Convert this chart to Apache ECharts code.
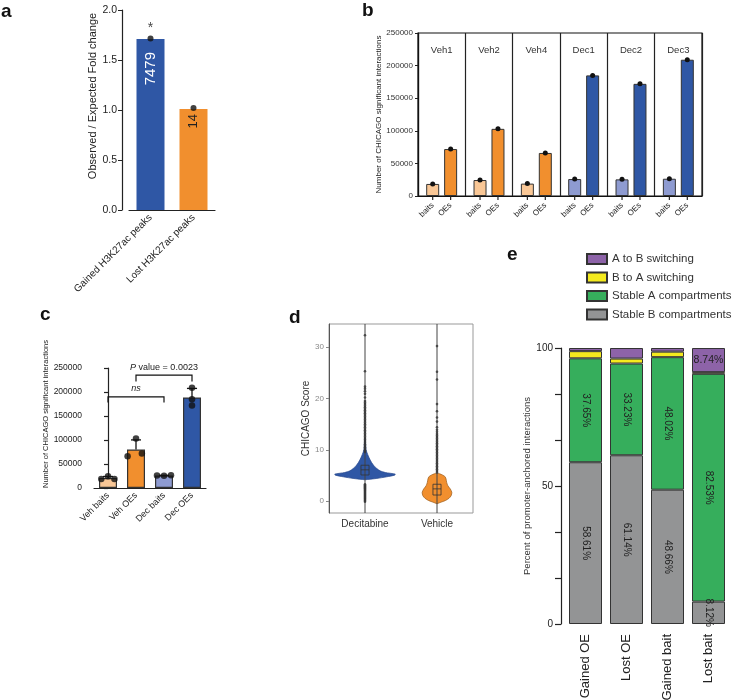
<!DOCTYPE html>
<html><head><meta charset="utf-8">
<script src="https://cdn.jsdelivr.net/npm/echarts@6/dist/echarts.min.js"></script>
<style>html,body{margin:0;padding:0;background:#fff}#c{width:732px;height:700px}</style>
</head><body><div id="c"></div><script>
// ---------- Panel a ----------
const aCats = ['Gained H3K27ac peaks', 'Lost H3K27ac peaks'];
const aValues = [1.71, 1.01];
const aPoints = [1.715, 1.02];
const aCounts = ['7479', '14'];
const aStars = ['*', ''];
// ---------- Panel b ----------
const bGroups = ['Veh1', 'Veh2', 'Veh4', 'Dec1', 'Dec2', 'Dec3'];
const bBaits = [18500, 24500, 19000, 26000, 25500, 26500];
const bOEs = [72000, 103000, 66000, 185000, 172000, 209000];
// ---------- Panel c ----------
const cCats = ['Veh baits', 'Veh OEs', 'Dec baits', 'Dec OEs'];
const cReplicates = [bBaits.slice(0, 3), bOEs.slice(0, 3), bBaits.slice(3), bOEs.slice(3)];
const cJitter = [[-0.24, 0, 0.23], [0.21, 0, -0.3], [-0.25, 0, 0.25], [0, 0, 0]];
const bracketFrom = [0, 1];
const bracketTo = [2, 3];
const bracketLevel = [190000, 235000];
const bracketLeg = [178000, 222000];
const bracketText = ['ns', 'P value = 0.0023'];
// ---------- Panel d ----------
const dCats = ['Decitabine', 'Vehicle'];
const dDecProfile = [[4.17,0],[4.43,0.39],[4.75,0.72],[5.07,0.98],[5.27,1],[5.59,0.67],[5.91,0.5],[6.36,0.39],[6.87,0.3],[7.51,0.22],[8.16,0.16],[8.8,0.11],[9.44,0.067],[10.1,0.033],[11.4,0.017],[12.3,0]];
const dVehProfile = [[-0.5,0],[-0.2,0.13],[0.13,0.28],[0.58,0.4],[1.09,0.47],[1.73,0.49],[2.38,0.44],[3.0,0.36],[3.66,0.32],[4.3,0.3],[4.75,0.27],[5.07,0.19],[5.33,0.09],[5.46,0]];
const dBoxes = [[5.1, 6.1, 7.0], [1.2, 2.4, 3.3]];
const dDecOutliers = [-0.1,0.1,0.3,0.5,0.7,0.9,1.1,1.3,1.5,1.7,1.9,2.1,2.3,2.5,2.7,2.9,3.1,3.3,
  9.6,9.9,10.2,10.5,10.8,11.1,11.4,11.7,12.0,12.3,12.6,12.9,13.2,13.5,13.8,14.1,14.4,14.7,15.0,15.3,15.6,15.9,16.2,16.5,16.8,17.1,17.4,17.7,18.0,18.3,18.6,18.9,19.2,19.5,20.2,20.9,21.4,21.9,22.3,25.3,32.3];
const dVehOutliers = [5.6,5.9,6.2,6.5,6.8,7.1,7.4,7.7,8.0,8.3,8.6,8.9,9.2,9.5,9.8,10.1,10.4,10.7,11.0,11.3,11.6,11.9,12.2,12.5,12.8,13.1,13.5,13.9,14.4,15.5,16.3,17.5,18.9,23.7,25.2,30.2];
// ---------- Panel e ----------
const eCats = ['Gained OE', 'Lost OE', 'Gained bait', 'Lost bait'];
const eStableB = [58.61, 61.14, 48.66, 8.12];
const eStableA = [37.65, 33.23, 48.02, 82.53];
const eBtoA = [2.6, 1.8, 2.0, 0.6];
const eAtoB = [1.14, 3.83, 1.32, 8.74];
const eYTicks = [0, 50, 100];

// ---------- styles ----------
const FONT = 'Liberation Sans, Arial, Helvetica, sans-serif';
const C_VEH_B = '#F9C796', C_VEH_O = '#F18F2E', C_DEC_B = '#8E9BD1', C_DEC_O = '#2F57A5';
const groupIsVeh = g => g.startsWith('Veh');
const bBaitColors = bGroups.map(g => groupIsVeh(g) ? C_VEH_B : C_DEC_B);
const bOEColors = bGroups.map(g => groupIsVeh(g) ? C_VEH_O : C_DEC_O);
const cColors = [C_VEH_B, C_VEH_O, C_DEC_B, C_DEC_O];

const mean = a => a.reduce((s, v) => s + v, 0) / a.length;
const sd = a => { const m = mean(a); return Math.sqrt(a.reduce((s, v) => s + (v - m) * (v - m), 0) / (a.length - 1)); };
const cMeans = cReplicates.map(mean);
const cSDs = cReplicates.map(sd);

const chart = echarts.init(document.getElementById('c'), null, {renderer: 'canvas'});

function renderErr(params, api) {
  const base = api.coord([api.value(0), api.value(1)]);
  const top = api.coord([api.value(0), api.value(2)]);
  const cap = api.size([1, 0])[0] * 0.18;
  const st = {stroke: '#111', lineWidth: 1.3};
  return {type: 'group', children: [
    {type: 'line', shape: {x1: base[0], y1: base[1], x2: top[0], y2: top[1]}, style: st},
    {type: 'line', shape: {x1: top[0] - cap, y1: top[1], x2: top[0] + cap, y2: top[1]}, style: st}
  ]};
}
function renderBracket(params, api) {
  const i = params.dataIndex;
  const p1 = api.coord([api.value(0), api.value(2)]);
  const p2 = api.coord([api.value(1), api.value(2)]);
  const l1 = api.coord([api.value(0), api.value(3)]);
  const l2 = api.coord([api.value(1), api.value(3)]);
  const txt = bracketText[i];
  const isP = txt.startsWith('P ');
  return {type: 'group', children: [
    {type: 'polyline', shape: {points: [[l1[0], l1[1]], [p1[0], p1[1]], [p2[0], p2[1]], [l2[0], l2[1]]]},
      style: {stroke: '#111', lineWidth: 1.2, fill: null}},
    {type: 'text', x: (p1[0] + p2[0]) / 2, y: p1[1] - 8,
      style: isP ? {text: '{i|P}' + txt.slice(1), rich: {i: {fontStyle: 'italic', fontSize: 9, fontFamily: FONT, fill: '#222'}},
        align: 'center', verticalAlign: 'middle', fontSize: 9, fontFamily: FONT, fill: '#222'}
        : {text: txt, align: 'center', verticalAlign: 'middle', fontSize: 9, fontStyle: 'italic', fontFamily: FONT, fill: '#222'}}
  ]};
}
const VIOLIN_HALF = 0.42, BOX_HALF = 0.056;
const dProfiles = [dDecProfile, dVehProfile];
const dFill = ['#2F57A5', '#F18F2E'], dStroke = ['#27488c', '#9a5a1a'];
function renderViolin(params, api) {
  const cat = api.value(0);
  const prof = dProfiles[cat];
  const band = api.size([1, 0])[0];
  const cx = api.coord([cat, 0])[0];
  const right = [], left = [];
  prof.forEach(([s, d]) => {
    const y = api.coord([cat, s])[1];
    const w = d * band * VIOLIN_HALF;
    right.push([cx + w, y]);
    left.unshift([cx - w, y]);
  });
  const cs = params.coordSys;
  const bx = dBoxes[cat];
  const bw = band * BOX_HALF;
  const y1 = api.coord([cat, bx[0]])[1], ym = api.coord([cat, bx[1]])[1], y3 = api.coord([cat, bx[2]])[1];
  return {type: 'group', children: [
    {type: 'polygon', shape: {points: right.concat(left), smooth: 0.25}, style: {fill: dFill[cat], stroke: dStroke[cat], lineWidth: 0.7}},
    {type: 'line', shape: {x1: cx, y1: cs.y, x2: cx, y2: cs.y + cs.height}, style: {stroke: '#444', lineWidth: 1}},
    {type: 'rect', shape: {x: cx - bw, y: y3, width: 2 * bw, height: y1 - y3}, style: {fill: null, stroke: '#333', lineWidth: 0.8}},
    {type: 'line', shape: {x1: cx - bw, y1: ym, x2: cx + bw, y2: ym}, style: {stroke: '#333', lineWidth: 0.8}}
  ]};
}

const axisTxt = {fontFamily: FONT, color: '#222'};
const plain = v => String(v);
// tick marks under each bar of panel b: on the top category axis (own bar layout, same grid)
const tickSeries = vals => ({type: 'pictorialBar', xAxisIndex: 2, yAxisIndex: 1, barWidth: 13, barGap: '38%',
  symbol: 'rect', symbolSize: [1.2, 4], symbolPosition: 'start', symbolOffset: [0, '100%'],
  itemStyle: {color: '#222'}, z: 5, data: vals});
const option = {
  animation: false,
  textStyle: {fontFamily: FONT},
  graphic: [
    {type: 'text', left: 1, top: 2, style: {text: 'a', font: 'bold 19px ' + FONT, fill: '#111'}},
    {type: 'text', left: 362, top: 1, style: {text: 'b', font: 'bold 19px ' + FONT, fill: '#111'}},
    {type: 'text', left: 40, top: 305, style: {text: 'c', font: 'bold 19px ' + FONT, fill: '#111'}},
    {type: 'text', left: 289, top: 308, style: {text: 'd', font: 'bold 19px ' + FONT, fill: '#111'}},
    {type: 'text', left: 507, top: 245, style: {text: 'e', font: 'bold 19px ' + FONT, fill: '#111'}}
  ],
  legend: {
    data: ['A to B switching', 'B to A switching', 'Stable A compartments', 'Stable B compartments'],
    orient: 'vertical', left: 581, top: 248, itemWidth: 20, itemHeight: 10, itemGap: 6.5,
    icon: 'rect', selectedMode: false,
    textStyle: {fontSize: 11.5, color: '#333', fontFamily: FONT}
  },
  grid: [
    {left: 129, top: 10, width: 86, height: 200, outerBoundsMode: 'none'},
    {left: 418, top: 33, width: 284, height: 163, show: true, borderColor: '#111', borderWidth: 1.2, outerBoundsMode: 'none'},
    {left: 94, top: 368, width: 112, height: 120, outerBoundsMode: 'none'},
    {left: 329, top: 324, width: 144, height: 189, show: true, borderColor: '#999', borderWidth: 1, outerBoundsMode: 'none'},
    {left: 565, top: 348, width: 164, height: 276, outerBoundsMode: 'none'}
  ],
  xAxis: [
    {gridIndex: 0, type: 'category', data: aCats,
      axisLine: {lineStyle: {color: '#222', width: 1.2}}, axisTick: {alignWithLabel: true, length: 4, lineStyle: {color: '#222'}},
      axisLabel: Object.assign({interval: 0, rotate: 45, fontSize: 10, margin: 6}, axisTxt)},
    {gridIndex: 1, type: 'category', data: bGroups,
      axisLine: {lineStyle: {color: '#111', width: 1.2}}, axisTick: {show: false}, axisLabel: {show: false},
      splitLine: {show: true, lineStyle: {color: '#222', width: 1.2}}},
    {gridIndex: 1, type: 'category', data: bGroups, position: 'top',
      axisLine: {show: false}, axisTick: {show: false}, splitLine: {show: false},
      axisLabel: {interval: 0, inside: true, margin: 12, fontSize: 9.5, color: '#333', fontFamily: FONT}},
    {gridIndex: 2, type: 'category', data: cCats,
      axisLine: {lineStyle: {color: '#222', width: 1.2}}, axisTick: {alignWithLabel: true, length: 4, lineStyle: {color: '#222', width: 1.2}},
      axisLabel: Object.assign({interval: 0, rotate: 45, fontSize: 9, margin: 6}, axisTxt)},
    {gridIndex: 2, type: 'value', min: -0.5, max: 3.5, show: false},
    {gridIndex: 3, type: 'category', data: dCats,
      axisLine: {show: false}, axisTick: {show: false}, splitLine: {show: false},
      axisLabel: {interval: 0, fontSize: 10, margin: 6, color: '#333', fontFamily: FONT}},
    {gridIndex: 4, type: 'category', data: eCats,
      axisLine: {show: false}, axisTick: {show: false},
      axisLabel: Object.assign({interval: 0, rotate: 90, fontSize: 13, margin: 10}, axisTxt)}
  ],
  yAxis: [
    {gridIndex: 0, type: 'value', min: 0, max: 2, interval: 0.5, offset: 7,
      axisLine: {show: true, lineStyle: {color: '#222', width: 1.2}}, axisTick: {show: true, length: 4, lineStyle: {color: '#222'}},
      splitLine: {show: false},
      axisLabel: Object.assign({fontSize: 10.5, margin: 5, formatter: v => v.toFixed(1)}, axisTxt),
      name: 'Observed / Expected Fold change', nameLocation: 'middle', nameRotate: 90, nameGap: 20,
      nameTextStyle: {fontSize: 11, color: '#222', fontFamily: FONT, padding: [0, 0, 0, 28]}},
    {gridIndex: 1, type: 'value', min: 0, max: 250000, interval: 50000,
      axisLine: {show: true, lineStyle: {color: '#111', width: 1.2}}, axisTick: {show: true, length: 3, lineStyle: {color: '#222'}},
      splitLine: {show: false},
      axisLabel: {fontSize: 8, margin: 5, color: '#333', fontFamily: FONT, formatter: plain},
      name: 'Number of CHICAGO significant interactions', nameLocation: 'middle', nameRotate: 90, nameGap: 35,
      nameTextStyle: {fontSize: 8, color: '#222', fontFamily: FONT}},
    {gridIndex: 2, type: 'value', min: 0, max: 250000, interval: 50000, offset: 7,
      axisLine: {show: true, lineStyle: {color: '#222', width: 1.2}}, axisTick: {show: true, length: 4, lineStyle: {color: '#222', width: 1.2}},
      splitLine: {show: false},
      axisLabel: {fontSize: 8.5, margin: 5, color: '#222', fontFamily: FONT, formatter: plain},
      name: 'Number of CHICAGO significant interactions', nameLocation: 'middle', nameRotate: 90, nameGap: 30,
      nameTextStyle: {fontSize: 7.5, color: '#222', fontFamily: FONT, padding: [0, 0, 0, 28]}},
    {gridIndex: 3, type: 'value', min: -2.3, max: 34.5,
      axisLine: {show: true, lineStyle: {color: '#555', width: 1}}, axisTick: {show: true, length: 3, lineStyle: {color: '#888'}},
      splitLine: {show: false},
      axisLabel: {fontSize: 8, margin: 5, color: '#888', fontFamily: FONT, showMinLabel: false, showMaxLabel: false,
        formatter: v => (Math.abs(v % 10) < 1e-6 ? String(Math.round(v)) : '')},
      name: 'CHICAGO Score', nameLocation: 'middle', nameRotate: 90, nameGap: 14,
      nameTextStyle: {fontSize: 10, color: '#333', fontFamily: FONT}},
    {gridIndex: 4, type: 'value', min: 0, max: 100, interval: 100 / 6, offset: 4,
      axisLine: {show: true, lineStyle: {color: '#222', width: 1.2}}, axisTick: {show: true, length: 6, lineStyle: {color: '#222', width: 1.2}},
      splitLine: {show: false},
      axisLabel: {fontSize: 10, margin: 8, color: '#222', fontFamily: FONT,
        formatter: v => { const r = eYTicks.find(t => Math.abs(t - v) < 0.01); return r === undefined ? '' : String(r); }},
      name: 'Percent of promoter-anchored interactions', nameLocation: 'middle', nameRotate: 90, nameGap: 28,
      nameTextStyle: {fontSize: 9.5, color: '#333', fontFamily: FONT}}
  ],
  series: [
    // a
    {type: 'bar', xAxisIndex: 0, yAxisIndex: 0, barWidth: 28,
      data: aValues.map((v, i) => ({value: v,
        itemStyle: {color: i === 0 ? C_DEC_O : C_VEH_O},
        label: {show: true, position: 'insideTop', rotate: 90, align: 'right', verticalAlign: 'middle',
          distance: i === 0 ? 13 : 5, formatter: aCounts[i], fontSize: i === 0 ? 15 : 13,
          color: i === 0 ? '#fff' : '#222', fontFamily: FONT}}))},
    {type: 'scatter', xAxisIndex: 0, yAxisIndex: 0, symbolSize: 6, itemStyle: {color: '#111'},
      data: aPoints.map((v, i) => [i, v]),
      label: {show: true, position: 'top', distance: 0, formatter: p => aStars[p.dataIndex], fontSize: 14, color: '#111', fontFamily: FONT}},
    // b
    {type: 'bar', name: 'baits', xAxisIndex: 1, yAxisIndex: 1, barWidth: 13, barGap: '38%',
      data: bBaits.map((v, i) => ({value: v, itemStyle: {color: bBaitColors[i], borderColor: '#333', borderWidth: 1}})),
      label: {show: true, position: 'bottom', distance: 8, rotate: 45, align: 'right', verticalAlign: 'middle',
        formatter: 'baits', fontSize: 8, color: '#222', fontFamily: FONT}},
    {type: 'bar', name: 'OEs', xAxisIndex: 1, yAxisIndex: 1, barWidth: 13, barGap: '38%',
      data: bOEs.map((v, i) => ({value: v, itemStyle: {color: bOEColors[i], borderColor: '#333', borderWidth: 1}})),
      label: {show: true, position: 'bottom', distance: 8, rotate: 45, align: 'right', verticalAlign: 'middle',
        formatter: 'OEs', fontSize: 8, color: '#222', fontFamily: FONT}},
    {type: 'pictorialBar', xAxisIndex: 1, yAxisIndex: 1, barWidth: 13, barGap: '38%', symbol: 'circle', symbolSize: [5, 5],
      symbolPosition: 'end', symbolOffset: [0, '-50%'], itemStyle: {color: '#111'}, z: 5, data: bBaits},
    {type: 'pictorialBar', xAxisIndex: 1, yAxisIndex: 1, barWidth: 13, barGap: '38%', symbol: 'circle', symbolSize: [5, 5],
      symbolPosition: 'end', symbolOffset: [0, '-50%'], itemStyle: {color: '#111'}, z: 5, data: bOEs},
    tickSeries(bBaits),
    tickSeries(bOEs),
    // c
    {type: 'bar', xAxisIndex: 3, yAxisIndex: 2, barWidth: 18,
      data: cMeans.map((v, i) => ({value: v, itemStyle: {color: cColors[i], borderColor: '#333', borderWidth: 1.2}}))},
    {type: 'custom', xAxisIndex: 3, yAxisIndex: 2, renderItem: renderErr, z: 3,
      encode: {x: 0, y: [1, 2]},
      data: cMeans.map((m, i) => [i, m, m + cSDs[i]])},
    {type: 'scatter', xAxisIndex: 4, yAxisIndex: 2, symbolSize: 6.5, itemStyle: {color: '#111'}, z: 4,
      data: cReplicates.flatMap((reps, i) => reps.map((v, k) => [i + cJitter[i][k], v]))},
    {type: 'custom', xAxisIndex: 3, yAxisIndex: 2, renderItem: renderBracket, z: 5,
      encode: {x: [0, 1], y: [2, 3]},
      data: bracketFrom.map((f, i) => [f, bracketTo[i], bracketLevel[i], bracketLeg[i]])},
    // d
    {type: 'custom', xAxisIndex: 5, yAxisIndex: 3, renderItem: renderViolin, z: 2,
      encode: {x: 0, y: 1}, data: dCats.map((c, i) => [i, dBoxes[i][1]])},
    {type: 'scatter', xAxisIndex: 5, yAxisIndex: 3, symbolSize: 2.6, itemStyle: {color: '#333'}, z: 3,
      data: dDecOutliers.map(v => [0, v]).concat(dVehOutliers.map(v => [1, v]))},
    // e
    {type: 'bar', name: 'Stable B compartments', stack: 'e', xAxisIndex: 6, yAxisIndex: 4, barWidth: 33,
      itemStyle: {color: '#939495', borderColor: '#333', borderWidth: 1},
      label: {show: true, position: 'inside', rotate: -90, formatter: p => p.value.toFixed(2) + '%', fontSize: 10, color: '#222', fontFamily: FONT},
      data: eStableB},
    {type: 'bar', name: 'Stable A compartments', stack: 'e', xAxisIndex: 6, yAxisIndex: 4, barWidth: 33,
      itemStyle: {color: '#36AE5C', borderColor: '#333', borderWidth: 1},
      label: {show: true, position: 'inside', rotate: -90, formatter: p => p.value.toFixed(2) + '%', fontSize: 10, color: '#222', fontFamily: FONT},
      data: eStableA},
    {type: 'bar', name: 'B to A switching', stack: 'e', xAxisIndex: 6, yAxisIndex: 4, barWidth: 33,
      itemStyle: {color: '#F4EA1E', borderColor: '#333', borderWidth: 1},
      data: eBtoA},
    {type: 'bar', name: 'A to B switching', stack: 'e', xAxisIndex: 6, yAxisIndex: 4, barWidth: 33,
      itemStyle: {color: '#8D63A8', borderColor: '#333', borderWidth: 1},
      data: eAtoB.map((v, i) => ({value: v, label: {show: i === 3, position: 'inside', formatter: p => p.value.toFixed(2) + '%',
        fontSize: 10.5, color: '#222', fontFamily: FONT}}))}
  ]
};
chart.setOption(option);
</script></body></html>
